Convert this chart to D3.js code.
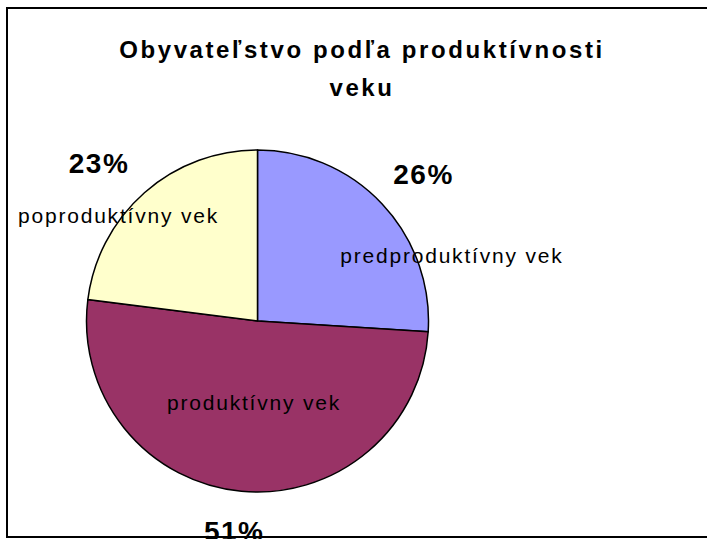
<!DOCTYPE html>
<html>
<head>
<meta charset="utf-8">
<script src="https://cdn.jsdelivr.net/npm/d3@7"></script>
<style>
  body { margin: 0; background: #fff; }
  svg { display: block; }
</style>
</head>
<body>
<div id="chart"></div>
<script>
// data
var categories = ["predproduktívny vek", "produktívny vek", "poproduktívny vek"];
var values = [26, 51, 23];
var colors = ["#9999FF", "#993366", "#FFFFCC"];
var titleLines = ["Obyvateľstvo podľa produktívnosti", "veku"];

var width = 707, height = 539;
var cx = 257.5, cy = 321, radius = 171;
var font = "Liberation Sans, Arial, sans-serif";

var svg = d3.select("#chart").append("svg")
    .attr("width", width)
    .attr("height", height);

// chart area frame (right side runs off the picture)
svg.append("rect")
    .attr("x", 7).attr("y", 8)
    .attr("width", 720).attr("height", 529)
    .attr("fill", "#fff")
    .attr("stroke", "#000")
    .attr("stroke-width", 2);

svg.append("text")
    .attr("x", 362).attr("y", 58)
    .attr("text-anchor", "middle")
    .attr("font-family", font)
    .attr("font-weight", "bold")
    .attr("font-size", 24)
    .attr("letter-spacing", 2.6)
    .selectAll("tspan")
    .data(titleLines)
    .enter()
    .append("tspan")
    .attr("x", 362)
    .attr("dy", function (d, i) { return i === 0 ? 0 : 38; })
    .text(function (d) { return d; });

var pie = d3.pie().sort(null).value(function (d) { return d; });
var arcs = pie(values);

var arc = d3.arc().innerRadius(0).outerRadius(radius);
var pctArc = d3.arc().innerRadius(radius * 1.26).outerRadius(radius * 1.26);

var g = svg.append("g").attr("transform", "translate(" + cx + "," + cy + ")");

g.selectAll("path")
    .data(arcs)
    .enter()
    .append("path")
    .attr("d", arc)
    .attr("fill", function (d, i) { return colors[i]; })
    .attr("stroke", "#000")
    .attr("stroke-width", 1.5);

// percentage labels outside the pie
var pctShift = [[9, 1], [-3, -4], [-16, 4]];
g.selectAll("text.pct")
    .data(arcs)
    .enter()
    .append("text")
    .attr("class", "pct")
    .attr("transform", function (d, i) {
        var c = pctArc.centroid(d);
        return "translate(" + (c[0] + pctShift[i][0]) + "," + (c[1] + pctShift[i][1]) + ")";
    })
    .attr("dy", "0.35em")
    .attr("text-anchor", "middle")
    .attr("font-family", font)
    .attr("font-weight", "bold")
    .attr("font-size", 28)
    .attr("letter-spacing", 1.5)
    .text(function (d) { return Math.round(d.value) + "%"; });

// category labels, placed where Excel put them
var catShift = [[132, -6.5], [4.5, -3], [-82.5, -41]];
g.selectAll("text.cat")
    .data(arcs)
    .enter()
    .append("text")
    .attr("class", "cat")
    .attr("transform", function (d, i) {
        var c = arc.centroid(d);
        return "translate(" + (c[0] + catShift[i][0]) + "," + (c[1] + catShift[i][1]) + ")";
    })
    .attr("dy", "0.35em")
    .attr("text-anchor", "middle")
    .attr("font-family", font)
    .attr("font-size", 21)
    .attr("letter-spacing", 1.8)
    .text(function (d, i) { return categories[i]; });
</script>
</body>
</html>
